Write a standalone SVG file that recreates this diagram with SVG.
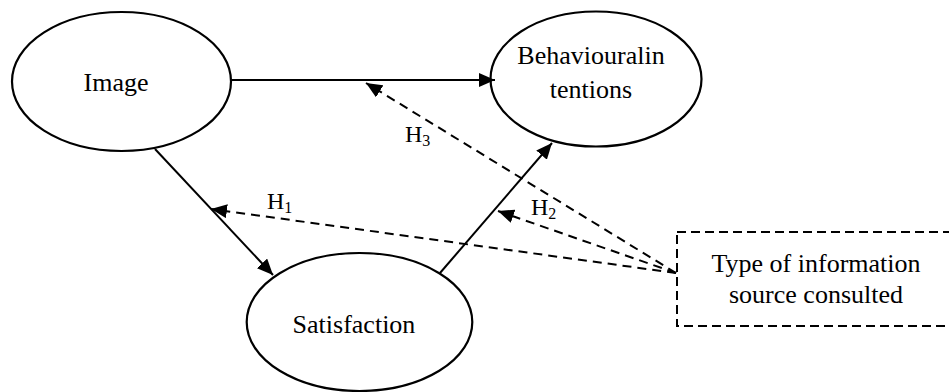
<svg xmlns="http://www.w3.org/2000/svg" width="949" height="392" viewBox="0 0 949 392">
<style>
.node{fill:#fff;stroke:#000;stroke-width:2.2}
.dbox{fill:#fff;stroke:#000;stroke-width:2;stroke-dasharray:9 5}
.t{font-family:'Liberation Serif','Times New Roman',serif;font-size:26px;fill:#000;text-anchor:middle}
.h{font-family:'Liberation Serif','Times New Roman',serif;font-size:24px;fill:#000}
.sub{font-size:16px}
.solid{stroke:#000;stroke-width:2;fill:none}
.dash{stroke:#000;stroke-width:2;fill:none;stroke-dasharray:9 6}
</style>
<defs>
<marker id="ah" viewBox="0 0 16 14" refX="16" refY="7" markerWidth="16" markerHeight="14" markerUnits="userSpaceOnUse" orient="auto">
<path d="M0,0 L16,7 L0,14 Z" fill="#000"/>
</marker>
</defs>
<g id="image"><ellipse class="node" cx="121.5" cy="81.5" rx="109.5" ry="69.5"/><text class="t" x="116" y="91">Image</text></g>
<g id="behavioural"><ellipse class="node" cx="596" cy="79" rx="105.5" ry="67.5"/><text class="t" x="591" y="64">Behaviouralin</text><text class="t" x="591" y="98">tentions</text></g>
<g id="satisfaction"><ellipse class="node" cx="359.5" cy="322" rx="112.8" ry="69"/><text class="t" x="354" y="333">Satisfaction</text></g>
<g id="source"><rect class="dbox" x="677" y="232" width="290" height="94"/><text class="t" x="816" y="272">Type of information</text><text class="t" x="816" y="303">source consulted</text></g>
<g id="connectors">
<line class="solid" x1="231" y1="80" x2="495" y2="80" marker-end="url(#ah)"/>
<line class="solid" x1="155" y1="149" x2="273" y2="275" marker-end="url(#ah)"/>
<line class="solid" x1="440" y1="273" x2="552" y2="143" marker-end="url(#ah)"/>
<line class="dash" x1="676" y1="273" x2="366" y2="83" marker-end="url(#ah)"/>
<line class="dash" x1="676" y1="273" x2="211" y2="209" marker-end="url(#ah)"/>
<line class="dash" x1="676" y1="273" x2="498" y2="211" marker-end="url(#ah)"/>
</g>
<g id="labels">
<text class="h" x="405" y="142">H<tspan class="sub" dy="4">3</tspan></text>
<text class="h" x="267" y="209">H<tspan class="sub" dy="4">1</tspan></text>
<text class="h" x="531" y="215">H<tspan class="sub" dy="4">2</tspan></text>
</g>
</svg>
